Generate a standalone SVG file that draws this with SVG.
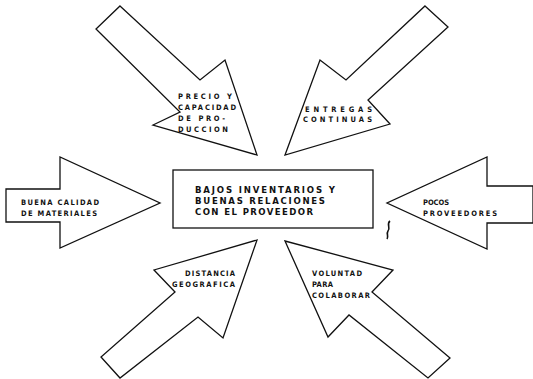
<svg xmlns="http://www.w3.org/2000/svg" width="533" height="379" viewBox="0 0 533 379">
<style>
.shape{fill:#fff;stroke:#111;stroke-width:1.3;stroke-linejoin:miter}
.t{font-family:"DejaVu Sans Condensed","DejaVu Sans",sans-serif;font-weight:bold;font-size:7.5px;fill:#111}
.c{font-family:"DejaVu Sans Condensed","DejaVu Sans",sans-serif;font-weight:bold;font-size:9.5px;fill:#111}
</style>
<rect width="533" height="379" fill="#fff"/>
<g id="connectors"></g>
<g id="arrow-precio">
<polygon class="shape" points="120,6 200,80 225,60 257,155 153,125 180,112 96,29"/>
<text class="t" x="178" y="99" textLength="54" lengthAdjust="spacing">PRECIO Y</text>
<text class="t" x="178" y="110" textLength="58" lengthAdjust="spacing">CAPACIDAD</text>
<text class="t" x="178" y="121" textLength="47" lengthAdjust="spacing">DE PRO-</text>
<text class="t" x="178" y="132" textLength="50" lengthAdjust="spacing">DUCCION</text>
</g>
<g id="arrow-entregas">
<polygon class="shape" points="425,6 448,27 368,100 390,124 285,155 320,60 346,80"/>
<text class="t" x="305" y="112" textLength="67" lengthAdjust="spacing">ENTREGAS</text>
<text class="t" x="303" y="122" textLength="69" lengthAdjust="spacing">CONTINUAS</text>
</g>
<g id="arrow-calidad">
<polygon class="shape" points="6,189 60,189 60,157 160,203 60,248 60,222 6,222"/>
<text class="t" x="21" y="205" textLength="78" lengthAdjust="spacing">BUENA CALIDAD</text>
<text class="t" x="21" y="216" textLength="76" lengthAdjust="spacing">DE MATERIALES</text>
</g>
<g id="arrow-proveedores">
<polygon class="shape" points="533,186 487,186 487,157 387,203 487,249 487,223 533,223"/>
<text class="t" x="423" y="205" textLength="26" lengthAdjust="spacing">POCOS</text>
<text class="t" x="423" y="216" textLength="74" lengthAdjust="spacing">PROVEEDORES</text>
</g>
<g id="arrow-distancia">
<polygon class="shape" points="257,240 154,270 175,292 101,357 120,378 198,317 223,338"/>
<text class="t" x="185" y="276" textLength="50" lengthAdjust="spacing">DISTANCIA</text>
<text class="t" x="172" y="287" textLength="63" lengthAdjust="spacing">GEOGRAFICA</text>
</g>
<g id="arrow-voluntad">
<polygon class="shape" points="285,241 393,270 372,292 450,358 428,378 349,315 328,337"/>
<text class="t" x="312" y="276" textLength="50" lengthAdjust="spacing">VOLUNTAD</text>
<text class="t" x="312" y="287" textLength="21" lengthAdjust="spacing">PARA</text>
<text class="t" x="312" y="298" textLength="58" lengthAdjust="spacing">COLABORAR</text>
</g>
<g id="center">
<rect class="shape" x="173" y="170" width="200" height="58"/>
<text class="c" x="195" y="193" textLength="140" lengthAdjust="spacing">BAJOS INVENTARIOS Y</text>
<text class="c" x="195" y="203.75" textLength="130" lengthAdjust="spacing">BUENAS RELACIONES</text>
<text class="c" x="195" y="214.5" textLength="118" lengthAdjust="spacing">CON EL PROVEEDOR</text>
</g>
<path d="M390,221 C386,224 391,228 388,231 C386,234 389,236 387,239" fill="none" stroke="#111" stroke-width="1.6"/>
</svg>
